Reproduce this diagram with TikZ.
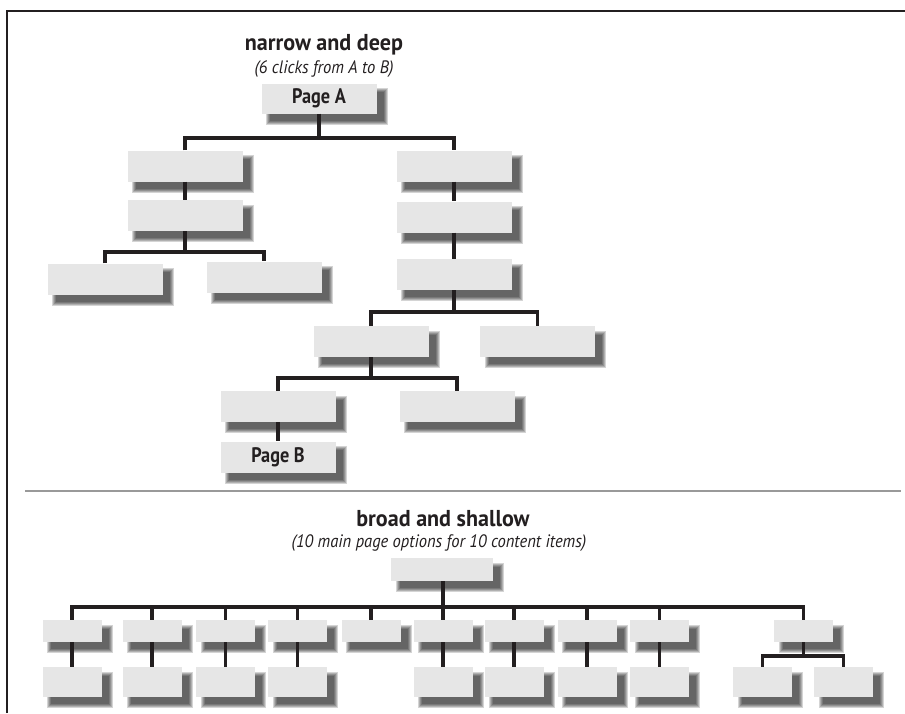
\documentclass[tikz,border=0pt]{standalone}
\usepackage{fontspec}
\setmainfont{PT Sans}
\newfontfamily\ttlfont{PT Sans}[FakeStretch=0.96]
\newfontfamily\subfont{PT Sans}[FakeStretch=0.92]
\newfontfamily\pgfont{PT Sans}[FakeStretch=0.87]
\usetikzlibrary{calc}
\pgfdeclarelayer{bg}
\pgfsetlayers{bg,main}
\definecolor{boxfill}{HTML}{E6E6E6}
\definecolor{ink}{HTML}{231F20}
\tikzset{
 bx/.style={fill=boxfill, inner sep=0pt, font=\pgfont\bfseries\fontsize{21}{23}\selectfont, text=ink},
 big/.style={bx, minimum width=115pt, minimum height=31pt},
 smA/.style={bx, minimum width=59pt, minimum height=22pt},
 smB/.style={bx, minimum width=59pt, minimum height=30pt},
 conn/.style={line width=3.3pt, draw=ink, line join=miter},
 ttl/.style={font=\ttlfont\bfseries\fontsize{23}{25}\selectfont, text=ink, inner sep=0pt},
 sub/.style={font=\subfont\itshape\fontsize{18}{20}\selectfont, text=ink, inner sep=0pt},
}
\begin{document}
\begin{tikzpicture}[x=1pt,y=-1pt]
\useasboundingbox (0,0) rectangle (905,713);
% frame
\coordinate (f1) at (7,713); \coordinate (f2) at (7,11); \coordinate (f3) at (905,11);
\draw[ink, line width=2pt] (f1) -- (f2) -- (f3);
\coordinate (sep1) at (25,491); \coordinate (sep2) at (901,491);
\draw[black!40, line width=1.6pt] (sep1) -- (sep2);

% ---------- narrow and deep ----------
\node[ttl] (t1) at (324,45) {narrow and deep};
\node[sub] (st1) at (324,69) {(6 clicks from A to B)};
\node[big, minimum height=30pt] (pA) at (319,98.5) {Page A};
\node[big] (L1) at (185,166) {};
\node[big] (L2) at (185,215.5) {};
\node[big] (LL) at (105,279) {};
\node[big] (LR) at (264,277) {};
\node[big] (R1) at (454,166) {};
\node[big] (R2) at (454,217) {};
\node[big] (R3) at (454,274.5) {};
\node[big] (R4a) at (371,341.5) {};
\node[big] (R4b) at (537.5,341.5) {};
\node[big] (R5a) at (278,406.5) {};
\node[big] (R5b) at (457,406.5) {};
\node[big] (pB) at (278,457) {Page B};

\coordinate (b1) at (0,138);
\coordinate (b2) at (0,252);
\coordinate (b3) at (0,312);
\coordinate (b4) at (0,378);
\draw[conn] (pA.south) -- (pA.south |- b1);
\draw[conn] (L1.north) |- (R1.north |- b1) -- (R1.north);
\draw[conn] (L1.south) -- (L2.north);
\draw[conn] (L2.south) -- (L2.south |- b2);
\draw[conn] (LL.north) |- (LR.north |- b2) -- (LR.north);
\draw[conn] (R1.south) -- (R2.north);
\draw[conn] (R2.south) -- (R3.north);
\draw[conn] (R3.south) -- (R3.south |- b3);
\draw[conn] (R4a.north) |- (R4b.north |- b3) -- (R4b.north);
\draw[conn] (R4a.south) -- (R4a.south |- b4);
\draw[conn] (R5a.north) |- (R5b.north |- b4) -- (R5b.north);
\draw[conn] (R5a.south) -- (pB.north);

% ---------- broad and shallow ----------
\node[ttl] (t2) at (443,519) {broad and shallow};
\node[sub] (st2) at (439,543) {(10 main page options for 10 content items)};
\node[bx, minimum width=102pt, minimum height=23pt] (T) at (442,569.5) {};

\node[smA] (a1) at (72,631) {};
\node[smA] (a2) at (152,631) {};
\node[smA] (a3) at (225.5,631) {};
\node[smA] (a4) at (297.5,631) {};
\node[smA] (a5) at (371,631) {};
\node[smA] (a6) at (443,631) {};
\node[smA] (a7) at (514,631) {};
\node[smA] (a8) at (587,631) {};
\node[smA] (a9) at (659.5,631) {};
\node[smA] (a10) at (803.5,631) {};

\node[smB] (c1) at (72,682) {};
\node[smB] (c2) at (152,682) {};
\node[smB] (c3) at (225.5,682) {};
\node[smB] (c4) at (297.5,682) {};
\node[smB] (c6) at (443,682) {};
\node[smB] (c7) at (514,682) {};
\node[smB] (c8) at (587,682) {};
\node[smB] (c9) at (659.5,682) {};
\node[smB] (c10a) at (762.5,682) {};
\node[smB] (c10b) at (843.5,682) {};

\coordinate (b5) at (0,607);
\coordinate (b6) at (0,656);
\draw[conn] (T.south -| a6.north) -- (a6.north |- b5);
\draw[conn] (a1.north) |- (a10.north |- b5) -- (a10.north);
\foreach \k in {2,3,4,5,6,7,8,9}{\draw[conn] (a\k.north) -- (a\k.north |- b5);}
\foreach \k in {1,2,3,4,6,7,8,9}{\draw[conn] (a\k.south) -- (c\k.north);}
\draw[conn] (a10.south) -- (a10.south |- b6);
\draw[conn] (c10a.north) |- (c10b.north |- b6) -- (c10b.north);

% shadows
\begin{pgfonlayer}{bg}
\foreach \n in {pA,L1,L2,LL,LR,R1,R2,R3,R4a,R4b,R5a,R5b,pB,T,a1,a2,a3,a4,a5,a6,a7,a8,a9,a10,c1,c2,c3,c4,c6,c7,c8,c9,c10a,c10b}{
  \foreach \r in {3,2,1,0,-1}{
    \fill[black, opacity=0.17] ($(\n.north west)+(8-\r,8-\r)$) rectangle ($(\n.south east)+(8+\r,8+\r)$);
  }
}
\end{pgfonlayer}
\end{tikzpicture}
\end{document}
